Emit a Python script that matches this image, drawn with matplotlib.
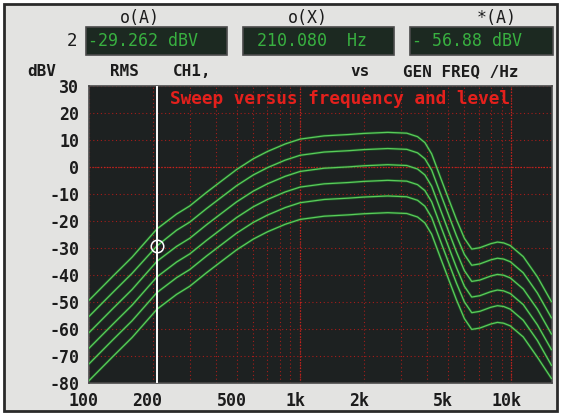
"""Audio analyzer screen: sweep versus frequency and level."""
import matplotlib
matplotlib.use("Agg")
import matplotlib.pyplot as plt
from matplotlib.patches import Rectangle
from matplotlib.ticker import FixedLocator, NullFormatter
from matplotlib.transforms import ScaledTranslation

# ----- data -----
FREQ = [100, 130, 160, 210, 260, 300, 360, 420, 500, 600, 700, 850, 1000,
        1300, 1700, 2000, 2600, 3200, 3600, 3900, 4200, 4600, 5000, 5500,
        6000, 6500, 7100, 8000, 8600, 9200, 9900, 11400, 13300, 15500]

LEVEL_1 = [-49.5, -40.5, -33.5, -23.0, -17.5, -14.5, -9.5, -5.5, -1.0, 3.0, 5.7,
           8.5, 10.3, 11.5, 12.0, 12.4, 12.8, 12.5, 11.2, 9.0, 4.8, -3.5, -11.0,
           -19.5, -26.5, -30.5, -30.0, -28.5, -27.9, -28.2, -29.2, -33.3, -40.8, -50.0]
LEVEL_2 = [-55.5, -46.5, -39.5, -29.3, -23.5, -20.5, -15.5, -11.5, -7.0, -3.0, -0.3,
           2.5, 4.3, 5.5, 6.0, 6.4, 6.8, 6.5, 5.2, 3.0, -1.2, -9.5, -17.0,
           -25.5, -32.5, -36.5, -36.0, -34.5, -33.9, -34.2, -35.2, -39.3, -46.8, -56.0]
LEVEL_3 = [-61.5, -52.5, -45.5, -35.0, -29.5, -26.5, -21.5, -17.5, -13.0, -9.0, -6.3,
           -3.5, -1.7, -0.5, 0.0, 0.4, 0.8, 0.5, -0.8, -3.0, -7.2, -15.5, -23.0,
           -31.5, -38.5, -42.5, -42.0, -40.5, -39.9, -40.2, -41.2, -45.3, -52.8, -62.0]
LEVEL_4 = [-67.3, -58.3, -51.3, -40.8, -35.3, -32.3, -27.3, -23.3, -18.8, -14.8, -12.1,
           -9.3, -7.5, -6.3, -5.8, -5.4, -5.0, -5.3, -6.6, -8.8, -13.0, -21.3, -28.8,
           -37.3, -44.3, -48.3, -47.8, -46.3, -45.7, -46.0, -47.0, -51.1, -58.6, -67.8]
LEVEL_5 = [-73.1, -64.1, -57.1, -46.6, -41.1, -38.1, -33.1, -29.1, -24.6, -20.6, -17.9,
           -15.1, -13.3, -12.1, -11.6, -11.2, -10.8, -11.1, -12.4, -14.6, -18.8, -27.1, -34.6,
           -43.1, -50.1, -54.1, -53.6, -52.1, -51.5, -51.8, -52.8, -56.9, -64.4, -73.6]
LEVEL_6 = [-79.3, -70.3, -63.3, -52.8, -47.3, -44.3, -39.3, -35.3, -30.8, -26.8, -24.1,
           -21.3, -19.5, -18.3, -17.8, -17.4, -17.0, -17.3, -18.6, -20.8, -25.0, -33.3, -40.8,
           -49.3, -56.3, -60.3, -59.8, -58.3, -57.7, -58.0, -59.0, -63.1, -70.6, -78.5]
LEVELS = [LEVEL_1, LEVEL_2, LEVEL_3, LEVEL_4, LEVEL_5, LEVEL_6]

CURSOR_HZ = 210.080
CURSOR_DB = -29.262

XTICKS = [100, 200, 500, 1000, 2000, 5000, 10000]
XTICK_LABELS = ["100", "200", "500", "1k", "2k", "5k", "10k"]
YTICKS = list(range(-80, 31, 10))

READOUTS = [("o(A)", "-29.262 dBV"), ("o(X)", "210.080  Hz"), ("*(A)", "- 56.88 dBV")]

# ----- styling -----
W, H = 561, 418
MONO = "DejaVu Sans Mono"
SCREEN_BG = "#e3e3e1"
PLOT_BG = "#1d2121"
GRID_RED = "#a51d1a"
LCD_BG = "#1c2921"
LCD_GREEN = "#38b040"
INK = "#1c1c1c"


def px(x, y):
    """pixel position (from top-left) -> figure fraction"""
    return x / W, 1 - y / H


fig = plt.figure(figsize=(W / 100, H / 100), dpi=100)
fig.patch.set_facecolor("white")

# screen panel with dark frame
fig.patches.append(Rectangle(px(4, 411), 553 / W, 407 / H, transform=fig.transFigure,
                             facecolor=SCREEN_BG, edgecolor="#2a2a2a", linewidth=2.0, zorder=-5))

# ----- header readouts -----
boxes = [(86, 227, 88), (243, 394, 257), (410, 553, 412)]
label_x = [140, 308, 497]
for (x0, x1, tx), lx, (lab, val) in zip(boxes, label_x, READOUTS):
    fig.patches.append(Rectangle(px(x0, 55), (x1 - x0) / W, 28 / H, transform=fig.transFigure,
                                 facecolor=LCD_BG, edgecolor="#4a4a4a", linewidth=1.2, zorder=1))
    fig.text(*px(tx, 41.5), val, family=MONO, fontsize=12, color=LCD_GREEN,
             ha="left", va="center", zorder=2)
    fig.text(*px(lx, 18), lab, family=MONO, fontsize=12, color=INK,
             ha="center", va="center")

fig.text(*px(72, 41.5), "2", family=MONO, fontsize=12.5, color=INK, ha="center", va="center")

row_y = 72
for x, s in [(27, "dBV"), (110, "RMS"), (173, "CH1,"), (350, "vs"), (403, "GEN FREQ /Hz")]:
    fig.text(*px(x, row_y), s, family=MONO, fontsize=11.5, fontweight="bold",
             color=INK, ha="left", va="center")

# ----- plot area -----
ax = fig.add_axes([89 / W, 1 - 382.5 / H, (552 - 89) / W, (382.5 - 86) / H])
ax.set_facecolor(PLOT_BG)
ax.set_xscale("log")
ax.set_xlim(100, 15600)
ax.set_ylim(-80, 30)

minor = [m * d for d in (100, 1000, 10000) for m in range(1, 10) if m * d <= 15600]
ax.xaxis.set_minor_locator(FixedLocator(minor))
ax.xaxis.set_minor_formatter(NullFormatter())
ax.set_xticks(XTICKS)
ax.set_xticklabels(XTICK_LABELS)
ax.set_yticks(YTICKS)
ax.set_yticklabels([str(v) for v in YTICKS])

ax.grid(which="both", axis="x", color=GRID_RED, linestyle=(0, (1, 2.4)), linewidth=0.8)
ax.grid(which="major", axis="y", color=GRID_RED, linestyle=(0, (1, 2.4)), linewidth=0.8)
for f in (1000, 10000):
    ax.axvline(f, color="#c4241f", linestyle=(0, (1, 1.3)), linewidth=0.9, zorder=1)
ax.axhline(0, color="#c4241f", linestyle=(0, (1, 1.3)), linewidth=0.9, zorder=1)
ax.set_axisbelow(True)

ax.tick_params(which="both", length=0)
ax.tick_params(axis="y", pad=7, labelsize=12, labelcolor=INK)
ax.tick_params(axis="x", pad=7, labelsize=12, labelcolor=INK)
for lab in ax.get_xticklabels() + ax.get_yticklabels():
    lab.set_family(MONO)
    lab.set_fontweight("bold")
shift = ScaledTranslation(-5 / 100, 0, fig.dpi_scale_trans)
for lab in ax.get_xticklabels():
    lab.set_transform(lab.get_transform() + shift)

for s in ax.spines.values():
    s.set_color("#4a4a4a")
    s.set_linewidth(1.2)

# curves
for lev in LEVELS:
    ax.plot(FREQ, lev, color="#1d6e29", linewidth=2.0, alpha=0.6, zorder=3)
    ax.plot(FREQ, lev, color="#5acc5a", linewidth=0.9, zorder=4)

# cursor
ax.axvline(CURSOR_HZ, color="white", linewidth=1.4, zorder=5)
ax.plot(CURSOR_HZ, CURSOR_DB, "o", mfc="none", mec="white", ms=9, mew=1.1, zorder=6)

fig.text(*px(340, 99), "Sweep versus frequency and level", family=MONO, fontsize=12.8,
         fontweight="bold", color="#e4201c", ha="center", va="center", zorder=10)

fig.savefig("out.png", dpi=100, facecolor=fig.get_facecolor())
